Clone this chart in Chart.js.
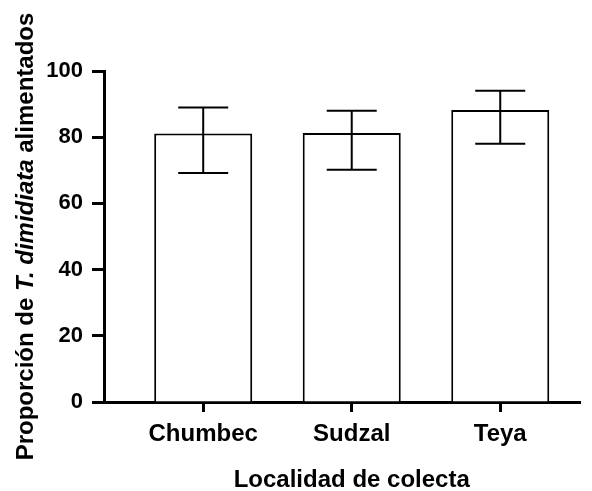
<!DOCTYPE html>
<html>
<head>
<meta charset="utf-8">
<script src="https://cdn.jsdelivr.net/npm/chart.js@4"></script>
<style>
  html, body { margin: 0; padding: 0; background: #fff; }
  #wrap { width: 592px; height: 491px; }
</style>
</head>
<body>
<div id="wrap"><canvas id="fed_chart"></canvas></div>
<script>
const localities = ['Chumbec', 'Sudzal', 'Teya'];
const fedPercent = [81.1, 81.3, 88.2];
const errUpper = [89, 88, 94];
const errLower = [69.2, 70.2, 78];
const yTicks = [0, 20, 40, 60, 80, 100];

const FONT = "'Liberation Sans', Arial, sans-serif";

// whisker lines with caps over each bar
const errorBars = {
    id: 'errorBars',
    afterDatasetsDraw(chart) {
        const ctx = chart.ctx;
        const y = chart.scales.y;
        const meta = chart.getDatasetMeta(0);
        ctx.save();
        ctx.strokeStyle = '#000';
        ctx.lineWidth = 2;
        meta.data.forEach((bar, i) => {
            const top = y.getPixelForValue(errUpper[i]);
            const bottom = y.getPixelForValue(errLower[i]);
            ctx.beginPath();
            ctx.moveTo(bar.x, top);
            ctx.lineTo(bar.x, bottom);
            ctx.moveTo(bar.x - 25, top);
            ctx.lineTo(bar.x + 25, top);
            ctx.moveTo(bar.x - 25, bottom);
            ctx.lineTo(bar.x + 25, bottom);
            ctx.stroke();
        });
        ctx.restore();
    },
};

// axis titles; the y title has an italic species name in the middle
const axisTitles = {
    id: 'axisTitles',
    afterDraw(chart) {
        const ctx = chart.ctx;
        const area = chart.chartArea;
        ctx.save();
        ctx.fillStyle = '#000';
        ctx.textBaseline = 'alphabetic';

        ctx.font = 'bold 24px ' + FONT;
        ctx.textAlign = 'center';
        ctx.fillText('Localidad de colecta', chart.scales.x.getPixelForValue(1), 487);

        const parts = [
            ['Proporción de ', 'bold 24px ' + FONT],
            ['T. dimidiata', 'italic bold 24px ' + FONT],
            [' alimentados', 'bold 24px ' + FONT],
        ];
        let total = 0;
        parts.forEach((p) => {
            ctx.font = p[1];
            total += ctx.measureText(p[0]).width;
        });
        ctx.translate(33, (area.top + area.bottom) / 2);
        ctx.rotate(-Math.PI / 2);
        ctx.textAlign = 'left';
        let pos = -total / 2;
        parts.forEach((p) => {
            ctx.font = p[1];
            ctx.fillText(p[0], pos, 0);
            pos += ctx.measureText(p[0]).width;
        });
        ctx.restore();
    },
};

const ctx = document.getElementById('fed_chart');
const myChart = new Chart(ctx, {
    type: 'bar',
    data: {
        datasets: [
            {
                data: fedPercent.map((v, i) => ({ x: i, y: v })),
                backgroundColor: '#fff',
                borderColor: '#000',
                borderWidth: 2,
                barPercentage: 0.66,
                categoryPercentage: 1,
            },
        ],
    },
    options: {
        responsive: true,
        maintainAspectRatio: false,
        animation: false,
        layout: { padding: { left: 0, right: 12, top: 71, bottom: 0 } },
        plugins: {
            legend: { display: false },
            tooltip: { enabled: false },
        },
        scales: {
            x: {
                type: 'linear',
                min: -0.668,
                max: 2.537,
                offset: false,
                z: 1,
                afterBuildTicks: (scale) => {
                    scale.ticks = localities.map((_, i) => ({ value: i }));
                },
                afterFit: (scale) => {
                    scale.height = 89;
                },
                grid: {
                    offset: false,
                    drawOnChartArea: false,
                    drawTicks: true,
                    tickLength: 10,
                    tickWidth: 3,
                    color: '#000',
                },
                border: { display: true, color: '#000', width: 3 },
                ticks: {
                    padding: 8,
                    color: '#000',
                    maxRotation: 0,
                    autoSkip: false,
                    font: { family: FONT, size: 24, weight: 'bold' },
                    callback: (value) => localities[value],
                },
            },
            y: {
                min: 0,
                max: 100,
                z: 1,
                afterBuildTicks: (scale) => {
                    scale.ticks = yTicks.map((v) => ({ value: v }));
                },
                afterFit: (scale) => {
                    scale.width = 104;
                },
                grid: {
                    drawOnChartArea: false,
                    drawTicks: true,
                    tickLength: 12,
                    tickWidth: 3,
                    color: '#000',
                },
                border: { display: true, color: '#000', width: 3 },
                ticks: {
                    padding: 9,
                    color: '#000',
                    font: { family: FONT, size: 22, weight: 'bold' },
                },
            },
        },
    },
    plugins: [errorBars, axisTitles],
});
</script>
</body>
</html>
